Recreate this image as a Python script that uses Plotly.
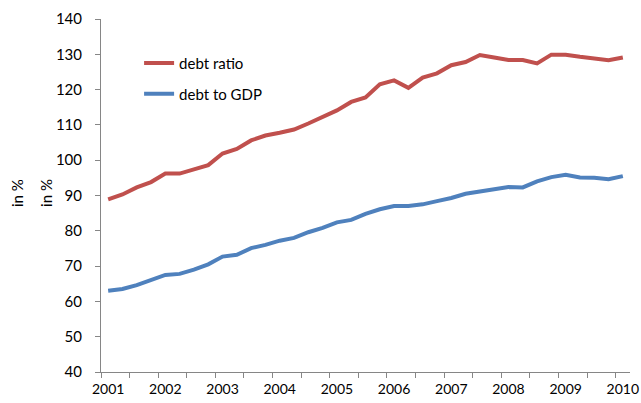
import plotly.graph_objects as go

years = ["2001", "2002", "2003", "2004", "2005", "2006", "2007", "2008", "2009", "2010"]
quarters = list(range(37))  # quarterly observations, 2001 Q1 .. 2010 Q1

debt_ratio = [88.9, 90.3, 92.3, 93.8, 96.2, 96.2, 97.4, 98.6, 101.9, 103.2,
              105.6, 107.0, 107.8, 108.7, 110.4, 112.4, 114.1, 116.5, 117.8, 121.5,
              122.6, 120.5, 123.4, 124.6, 126.9, 127.8, 129.8, 129.1, 128.4, 128.4,
              127.4, 129.9, 129.9, 129.3, 128.9, 128.3, 129.1]
debt_to_gdp = [63.0, 63.5, 64.6, 65.9, 67.5, 67.8, 69.0, 70.5, 72.7, 73.2,
               75.1, 76.0, 77.2, 78.0, 79.6, 80.8, 82.4, 83.1, 84.8, 86.1,
               87.0, 87.0, 87.5, 88.4, 89.3, 90.5, 91.1, 91.6, 92.4, 92.3,
               94.0, 95.2, 95.9, 95.1, 95.0, 94.6, 95.5]

RED = "#C0504D"
BLUE = "#4F81BD"
AXIS = "#868686"
FONT = "Lato"
FS = 15
TFS = 14

fig = go.Figure()
fig.add_trace(go.Scatter(x=quarters, y=debt_ratio, mode="lines", name="debt ratio",
                         line=dict(color=RED, width=4), legend="legend", showlegend=True))
fig.add_trace(go.Scatter(x=quarters, y=debt_to_gdp, mode="lines", name="debt to GDP",
                         line=dict(color=BLUE, width=4), legend="legend2", showlegend=True))

label_vals = [i * 4 for i in range(len(years))]
boundary_ticks = [i - 0.5 for i in range(0, 37, 2)]

fig.update_layout(
    width=641, height=403,
    margin=dict(l=100.5, r=11, t=19, b=31, autoexpand=False),
    paper_bgcolor="white", plot_bgcolor="white",
    showlegend=True,
    font=dict(family=FONT, size=FS, color="#000000"),
    xaxis=dict(
        range=[-0.5, 36.5], showgrid=False, zeroline=False, automargin=False,
        showline=True, linecolor=AXIS, linewidth=1,
        tickmode="array", tickvals=label_vals, ticktext=years,
        ticks="outside", ticklen=4, tickcolor="rgba(0,0,0,0)",
        ticklabeloverflow="allow",
        tickfont=dict(family=FONT, size=TFS),
        minor=dict(tickmode="array", tickvals=boundary_ticks, ticks="outside",
                   ticklen=5, tickcolor=AXIS, showgrid=False),
    ),
    yaxis=dict(
        range=[40, 140], dtick=10, tick0=40, showgrid=False, zeroline=False,
        automargin=False,
        showline=True, linecolor=AXIS, linewidth=1,
        ticks="outside", ticklen=5, tickcolor=AXIS, ticklabelstandoff=10,
        tickfont=dict(family=FONT, size=FS),
    ),
    legend=dict(x=0.072, y=0.875, xanchor="left", yanchor="middle",
                bgcolor="rgba(0,0,0,0)", font=dict(family=FONT, size=FS)),
    legend2=dict(x=0.072, y=0.7875, xanchor="left", yanchor="middle",
                 bgcolor="rgba(0,0,0,0)", font=dict(family=FONT, size=FS)),
    annotations=[
        dict(text="in %", xref="paper", yref="paper", x=-0.1587, y=0.507,
             textangle=-90, showarrow=False, xanchor="center", yanchor="middle",
             font=dict(family=FONT, size=FS)),
        dict(text="in %", xref="paper", yref="paper", x=-0.1042, y=0.507,
             textangle=-90, showarrow=False, xanchor="center", yanchor="middle",
             font=dict(family=FONT, size=FS)),
    ],
)

fig.write_html("out.html", config={"displayModeBar": False},
               post_script="document.body.style.margin='0';document.body.style.overflow='hidden';")
